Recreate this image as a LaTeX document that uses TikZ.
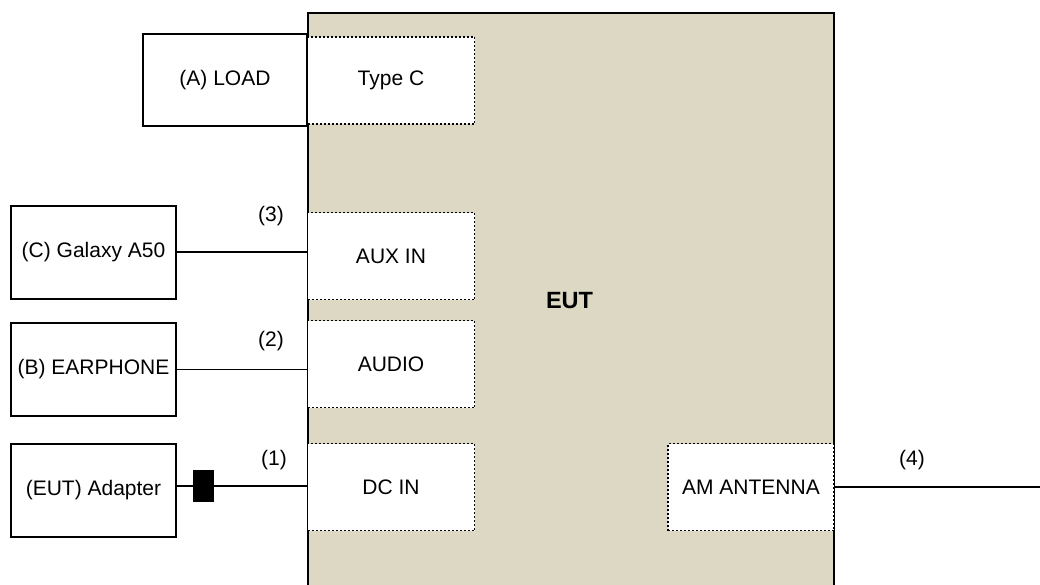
\documentclass[tikz,border=0pt]{standalone}
\usepackage{fontspec}
\setmainfont{Liberation Sans}
\usetikzlibrary{positioning}
\definecolor{eutfill}{RGB}{221,216,195}

\begin{document}
\begin{tikzpicture}[
  eutbox/.style   = {draw, line width=2.2pt, fill=eutfill, minimum width=526pt, minimum height=590pt, inner sep=0pt, anchor=north west},
  portbox/.style  = {draw, dash pattern=on 2pt off 2pt, line width=1.8pt, fill=white, minimum width=167pt, minimum height=87pt, inner sep=0pt},
  devbox/.style   = {draw, line width=2pt, fill=white, minimum width=165pt, minimum height=93pt, inner sep=0pt},
  plugbox/.style  = {draw, fill=black, minimum width=20pt, minimum height=31pt, inner sep=0pt},
  cablelink/.style= {line width=1.4pt},
  boxtext/.style  = {font=\fontsize{21}{25}\selectfont},
  x=1pt, y=-1pt,
]
  \useasboundingbox (0,0) rectangle (1040,584);

  \node[eutbox] (eut) at (307,12) {};
  \node[font=\fontsize{23.5}{28}\selectfont\bfseries] (euttxt) at (569.5,301) {EUT};

  \node[portbox, boxtext] (typec) at (391,80.5) {Type C};
  \node[portbox, boxtext] (auxin) at (391,256) {AUX IN};
  \node[portbox, boxtext] (audio) at (391,364) {AUDIO};
  \node[portbox, boxtext] (dcin)  at (391,487) {DC IN};
  \node[portbox, boxtext, minimum width=166pt] (amant) at (751,487) {AM ANTENNA};

  \node[devbox, boxtext, minimum width=164pt, minimum height=92pt] (load) at (225,80) {(A) LOAD};
  \node[devbox, boxtext] (galaxy)   at (93.5,252) {(C) Galaxy A50};
  \node[devbox, boxtext] (earphone) at (93.5,369.5) {(B) EARPHONE};
  \node[devbox, boxtext] (adapter)  at (93.5,490.5) {(EUT) Adapter};
  \node[plugbox] (plug) at (203.5,486) {};
  \coordinate (antend) at (1040,487);

  \draw[cablelink] (galaxy.east) -- (galaxy.east -| auxin.west);
  \draw[cablelink] (earphone.east) -- (earphone.east -| audio.west);
  \draw[cablelink] (plug.west -| adapter.east) -- (plug.west);
  \draw[cablelink] (plug.east) -- (plug.east -| dcin.west);
  \draw[cablelink] (amant.east) -- (antend);

  \node[boxtext] (n3) at (271,216) {(3)};
  \node[boxtext] (n2) at (271,341) {(2)};
  \node[boxtext] (n1) at (274,460) {(1)};
  \node[boxtext] (n4) at (912,460) {(4)};
\end{tikzpicture}
\end{document}
